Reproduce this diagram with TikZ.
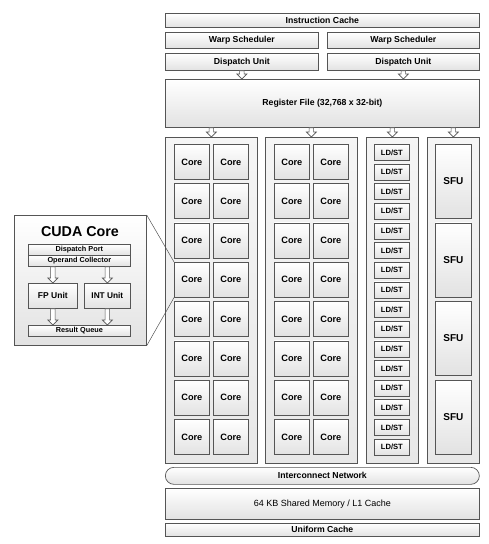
\documentclass[tikz,border=0pt]{standalone}
\usepackage{fontspec}
\setmainfont{Liberation Sans}
\usetikzlibrary{calc}
\definecolor{unitline}{RGB}{85,85,85}
\definecolor{unitshade}{RGB}{226,226,226}

\begin{document}
\begin{tikzpicture}[x=1pt,y=-1pt,
  unit/.style={draw=unitline, line width=0.7pt, top color=white, bottom color=unitshade,
    anchor=north west, inner sep=0pt, font=\fontsize{8.7}{10}\selectfont\bfseries},
  column/.style={unit, top color=white!96!black, bottom color=white!91!black},
  core/.style={unit, minimum width=35pt, minimum height=35pt, font=\fontsize{9.2}{10}\selectfont\bfseries},
  ldst/.style={unit, minimum width=35pt, minimum height=16pt, font=\fontsize{7.6}{9}\selectfont\bfseries},
  sfu/.style={unit, minimum width=36pt, minimum height=74pt, font=\fontsize{10}{11}\selectfont\bfseries},
  small/.style={unit, minimum width=102pt, minimum height=11pt, font=\fontsize{7.3}{8}\selectfont\bfseries},
  hollow/.style={draw=unitline, fill=white, line width=0.6pt, to path={
    let \p1=(\tikztostart), \p2=(\tikztotarget) in
    (\x1-2.2pt,\y1) -- (\x1+2.2pt,\y1) -- (\x1+2.2pt,\y2+5pt) -- (\x1+5pt,\y2+5pt)
    -- (\x1,\y2) -- (\x1-5pt,\y2+5pt) -- (\x1-2.2pt,\y2+5pt) -- cycle}},
  zoomline/.style={draw=unitline, line width=0.5pt}]
\useasboundingbox (0,0) rectangle (488,544);

% front end
\node[unit, minimum width=314pt, minimum height=14pt] (icache) at (165,13) {Instruction Cache};
\node[unit, minimum width=153pt, minimum height=16pt] (warpA) at (165,32) {Warp Scheduler};
\node[unit, minimum width=152pt, minimum height=16pt] (warpB) at (327,32) {Warp Scheduler};
\node[unit, minimum width=153pt, minimum height=17pt] (dispA) at (165,53) {Dispatch Unit};
\node[unit, minimum width=152pt, minimum height=17pt] (dispB) at (327,53) {Dispatch Unit};
\node[unit, minimum width=314pt, minimum height=48pt] (regfile) at (165,79) {Register File (32,768 x 32-bit)};
\draw[hollow] (dispA.south) to (regfile.north -| dispA.south);
\draw[hollow] (dispB.south) to (regfile.north -| dispB.south);

% execution columns
\node[column, minimum width=92pt, minimum height=326pt] (colA) at (165,137) {};
\node[column, minimum width=92pt, minimum height=326pt] (colB) at (265,137) {};
\node[column, minimum width=52pt, minimum height=326pt] (colLS) at (366,137) {};
\node[column, minimum width=52pt, minimum height=326pt] (colSFU) at (427,137) {};
\foreach \c in {colA,colB,colLS,colSFU}
  \draw[hollow] (regfile.south -| \c.north) to (\c.north);

\foreach \r in {0,...,7}{
  \foreach \c/\cx in {1/174,2/213,3/274,4/313}
    \node[core] (core-\r-\c) at (\cx,144+39.3*\r) {Core};
}
\foreach \j in {0,...,15}
  \node[ldst] (ldst-\j) at (374,144+19.65*\j) {LD/ST};
\foreach \k in {0,...,3}
  \node[sfu] (sfu-\k) at (435,144+78.6*\k) {SFU};

% memory
\node[unit, minimum width=314pt, minimum height=17pt, rounded corners=8.5pt] (icnet) at (165,467) {Interconnect Network};
\node[unit, minimum width=314pt, minimum height=31pt, font=\fontsize{9}{10}\selectfont] (shmem) at (165,488) {64 KB Shared Memory / L1 Cache};
\node[unit, minimum width=314pt, minimum height=13pt] (ucache) at (165,523) {Uniform Cache};

% CUDA core detail
\node[unit, minimum width=132pt, minimum height=130pt] (cuda) at (14,215) {};
\node[font=\fontsize{14.3}{16}\selectfont\bfseries] (cudatitle) at (80,232) {CUDA Core};
\node[small] (dport) at (28,244) {Dispatch Port};
\node[small] (opcol) at (28,255) {Operand Collector};
\node[unit, minimum width=49pt, minimum height=25pt, font=\fontsize{8.5}{9}\selectfont\bfseries] (fpunit) at (28,283) {FP Unit};
\node[unit, minimum width=46pt, minimum height=25pt, font=\fontsize{8.3}{9}\selectfont\bfseries] (intunit) at (84,283) {INT Unit};
\node[small] (resq) at (28,325) {Result Queue};
\draw[hollow] (opcol.south -| fpunit.north) to (fpunit.north);
\draw[hollow] (opcol.south -| intunit.north) to (intunit.north);
\draw[hollow] (fpunit.south) to (resq.north -| fpunit.south);
\draw[hollow] (intunit.south) to (resq.north -| intunit.south);
\draw[zoomline] (cuda.north east) -- (core-3-1.north west);
\draw[zoomline] (cuda.south east) -- (core-3-1.south west);
\end{tikzpicture}
\end{document}
